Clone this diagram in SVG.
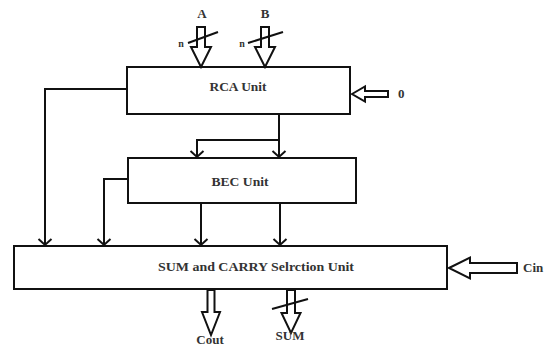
<svg xmlns="http://www.w3.org/2000/svg" width="548" height="347" viewBox="0 0 548 347">
<style>
.box{fill:#fff;stroke:#111;stroke-width:2}
.wire{fill:none;stroke:#111;stroke-width:2}
.bus{fill:#fff;stroke:#111;stroke-width:2;stroke-linejoin:miter}
.t{font-family:"Liberation Serif","Times New Roman",serif;font-weight:bold;fill:#333;font-size:13px}
.s{font-family:"Liberation Serif","Times New Roman",serif;font-weight:bold;fill:#333;font-size:10px}
</style>
<defs>
<marker id="ah" markerUnits="userSpaceOnUse" viewBox="-10 -10 20 20" refX="0" refY="0" markerWidth="20" markerHeight="20" orient="auto">
<path d="M-6,-6.5 L0,0 L-6,6.5" fill="none" stroke="#111" stroke-width="2"/>
</marker>
</defs>
<rect width="548" height="347" fill="#fff"/>
<g id="rca">
<rect class="box" x="127" y="67" width="223" height="47"/>
<text class="t" x="238" y="91" text-anchor="middle" textLength="57" lengthAdjust="spacingAndGlyphs">RCA Unit</text>
</g>
<g id="bec">
<rect class="box" x="128" y="158" width="228" height="45"/>
<text class="t" x="240" y="186" text-anchor="middle" textLength="57" lengthAdjust="spacingAndGlyphs">BEC Unit</text>
</g>
<g id="sel">
<rect class="box" x="14" y="246" width="433" height="43"/>
<text class="t" x="256" y="271" text-anchor="middle" textLength="196" lengthAdjust="spacingAndGlyphs">SUM and CARRY Selrction Unit</text>
</g>
<g id="inA">
<text class="t" x="202" y="18" text-anchor="middle">A</text>
<polygon class="bus" points="197,27 205,27 205,47 211,47 201,67 191,47 197,47"/>
<line class="wire" x1="188" y1="43" x2="218" y2="32"/>
<text class="s" x="181" y="47" text-anchor="middle">n</text>
</g>
<g id="inB">
<text class="t" x="265" y="18" text-anchor="middle">B</text>
<polygon class="bus" points="261,27 269,27 269,47 275,47 265,67 255,47 261,47"/>
<line class="wire" x1="248" y1="43" x2="283" y2="32"/>
<text class="s" x="242" y="47" text-anchor="middle">n</text>
</g>
<g id="in0">
<polygon class="bus" points="352,94 365,86.5 365,91 388,91 388,97 365,97 365,101.5"/>
<text class="t" x="398" y="98">0</text>
</g>
<g id="cin">
<polygon class="bus" points="449,268 470,257.5 470,263 517,263 517,273 470,273 470,278.5"/>
<text class="t" x="523" y="272">Cin</text>
</g>
<g id="cout">
<polygon class="bus" points="207.5,290 214.5,290 214.5,312 220,312 211,335 202,312 207.5,312"/>
<text class="t" x="210" y="344" text-anchor="middle">Cout</text>
</g>
<g id="sum">
<polygon class="bus" points="287,290 295,290 295,313 300.5,313 291,333 281.5,313 287,313"/>
<line class="wire" x1="272" y1="309" x2="308" y2="299"/>
<text class="t" x="290" y="340" text-anchor="middle">SUM</text>
</g>
<g id="connectors">
<path class="wire" d="M127,89 H45 V245" marker-end="url(#ah)"/>
<path class="wire" d="M279,114 V157" marker-end="url(#ah)"/>
<path class="wire" d="M280,140 H197 V157" marker-end="url(#ah)"/>
<path class="wire" d="M128,179 H104 V245" marker-end="url(#ah)"/>
<path class="wire" d="M201,203 V245" marker-end="url(#ah)"/>
<path class="wire" d="M280,203 V245" marker-end="url(#ah)"/>
</g>
</svg>
